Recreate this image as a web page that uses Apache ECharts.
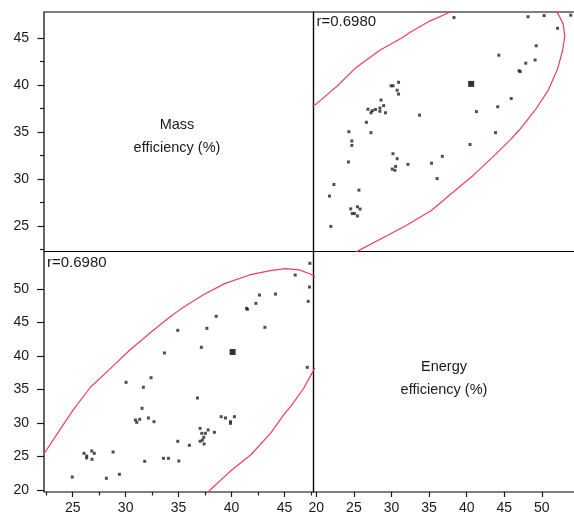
<!DOCTYPE html>
<html><head><meta charset="utf-8">
<script src="https://cdn.jsdelivr.net/npm/echarts@6/dist/echarts.min.js"></script>
<style>html,body{margin:0;padding:0;background:#fff}#c{width:574px;height:516px}</style>
</head><body><div id="c"></div>
<script>
// ---- data (mass efficiency %, energy efficiency %) ----
const massEff = [32.40, 30.04, 31.67, 31.55, 30.92, 31.05, 31.33, 32.15, 32.68, 34.92, 35.02, 33.57, 34.04, 31.80,
  28.81, 26.07, 26.32, 26.32, 26.80, 27.04, 26.82, 24.96, 28.18, 29.41,
  36.78, 36.02, 37.03, 37.19, 37.53, 37.79, 38.38, 37.38, 37.25, 37.03, 37.41, 39.02, 39.43, 39.90, 39.90, 40.27,
  34.92, 33.66,
  47.40, 46.01, 47.36, 47.24, 42.64, 44.15, 42.30, 41.41, 41.50, 38.55, 37.67, 43.15, 37.15, 47.15];
const energyEff = [36.76, 36.07, 35.33, 32.19, 30.45, 30.10, 30.55, 30.75, 30.20, 27.27, 24.33, 24.73, 24.73, 24.28,
  25.67, 25.47, 25.07, 24.78, 25.82, 25.47, 24.58, 21.94, 21.75, 22.34,
  33.73, 26.67, 29.20, 28.46, 28.46, 28.96, 28.61, 27.87, 27.46, 27.27, 26.87, 30.94, 30.75, 30.20, 29.95, 30.94,
  43.83, 40.45,
  53.84, 52.09, 50.30, 48.16, 49.10, 49.25, 47.86, 47.12, 46.97, 45.93, 44.13, 44.28, 41.30, 38.31];
const highlightMass = [40.1];
const highlightEnergy = [40.6];

// confidence ellipse, read as two visible arcs
const ellipseUpperMass   = [22.25, 23.8, 25.05, 26.65, 28.4, 30.4, 32.5, 34.2, 35.2, 37.3, 39.35, 41.7, 43.65, 45.1, 46.4, 47.5, 47.9];
const ellipseUpperEnergy = [25.3, 29.0, 31.95, 35.3, 37.9, 40.9, 43.7, 45.85, 47.0, 49.1, 50.8, 52.1, 52.75, 53.05, 52.85, 52.2, 51.8];
const ellipseLowerMass   = [37.75, 37.92, 39.85, 41.85, 43.7, 44.95, 45.65, 46.8, 47.55, 47.9];
const ellipseLowerEnergy = [19.5, 19.93, 22.75, 25.3, 28.5, 31.3, 32.6, 35.15, 37.3, 38.3];

// ticks and labels
const massTicks = [25, 30, 35, 40, 45];
const massMinorTicksX = [22.5, 27.5, 32.5, 37.5, 42.5, 47.5];
const massMinorTicksY = [22.5, 27.5, 32.5, 37.5, 42.5];
const energyTicks = [20, 25, 30, 35, 40, 45, 50];
const rText = 'r=0.6980';
const massLabel = ['Mass', 'efficiency (%)'];
const energyLabel = ['Energy', 'efficiency (%)'];

// ---- chart ----
const FONT = '"Liberation Sans", Arial, Helvetica, sans-serif';
const RED = '#ef3e5c';
const INK = '#1a1a1a';
const MASS = [22.29, 47.74];
const ENERGY_X = [19.63, 55.67];
const ENERGY_Y = [19.70, 55.60];

const pairsME = massEff.map((m, i) => [m, energyEff[i]]);
const pairsEM = massEff.map((m, i) => [energyEff[i], m]);
const upME = ellipseUpperMass.map((m, i) => [m, ellipseUpperEnergy[i]]);
const upEM = ellipseUpperMass.map((m, i) => [ellipseUpperEnergy[i], m]);
const loME = ellipseLowerMass.map((m, i) => [m, ellipseLowerEnergy[i]]);
const loEM = ellipseLowerMass.map((m, i) => [ellipseLowerEnergy[i], m]);

const gridStyle = {show: true, borderColor: '#000', borderWidth: 1.2, backgroundColor: 'transparent',
  outerBoundsMode: 'none', containLabel: false};
const grids = [
  Object.assign({left: 44, top: 12, width: 269.5, height: 239.5}, gridStyle),
  Object.assign({left: 313.5, top: 12, width: 271, height: 239.5}, gridStyle),
  Object.assign({left: 44, top: 251.5, width: 269.5, height: 240.5}, gridStyle),
  Object.assign({left: 313.5, top: 251.5, width: 271, height: 240.5}, gridStyle)
];

function hidden(type, gi, range) {
  return {type: 'value', gridIndex: gi, min: range[0], max: range[1], show: false, splitLine: {show: false}};
}
function shown(gi, range, pos, ticks, labels, tickLen, margin, fs) {
  return {
    type: 'value', gridIndex: gi, min: range[0], max: range[1], position: pos,
    axisLine: {show: false},
    splitLine: {show: false},
    axisTick: {show: true, length: tickLen, customValues: ticks, lineStyle: {color: INK, width: 1.2}},
    axisLabel: labels ? {show: true, customValues: labels, color: INK, fontSize: fs, fontFamily: FONT, margin: margin} : {show: false}
  };
}

const xAxis = [
  hidden('x', 0, MASS),
  hidden('x', 1, ENERGY_X),
  shown(2, MASS, 'bottom', massTicks, massTicks, 5, 9, 14),
  shown(3, ENERGY_X, 'bottom', energyTicks, energyTicks, 5, 9, 14),
  shown(2, MASS, 'bottom', massMinorTicksX, null, 3.5, 0, 14)
];
const yAxis = [
  shown(0, MASS, 'left', massTicks, massTicks, 6.5, 15, 14),
  hidden('y', 1, MASS),
  shown(2, ENERGY_Y, 'left', energyTicks, energyTicks, 7, 15, 14),
  hidden('y', 3, ENERGY_Y),
  shown(0, MASS, 'left', massMinorTicksY, null, 4, 0, 14)
];

function scatter(xi, yi, data, size, color) {
  return {type: 'scatter', xAxisIndex: xi, yAxisIndex: yi, data: data, symbol: 'rect', symbolSize: size,
    itemStyle: {color: color}, silent: true, animation: false};
}
function arc(xi, yi, data) {
  return {type: 'line', xAxisIndex: xi, yAxisIndex: yi, data: data, showSymbol: false, symbol: 'none', clip: true,
    lineStyle: {color: RED, width: 1.2}, smooth: false, silent: true, animation: false};
}

const series = [
  arc(1, 1, upEM), arc(1, 1, loEM),
  arc(2, 2, upME), arc(2, 2, loME),
  scatter(1, 1, pairsEM, 3, '#222'),
  scatter(2, 2, pairsME, 3, '#222'),
  scatter(1, 1, [[highlightEnergy[0], highlightMass[0]]], 6, '#000'),
  scatter(2, 2, [[highlightMass[0], highlightEnergy[0]]], 6, '#000')
];

function txt(s, x, y, align, fs) {
  return {type: 'text', silent: true, style: {text: s, x: x, y: y, align: align, verticalAlign: 'middle',
    font: fs + 'px ' + FONT, fill: INK}};
}
const graphic = [
  txt(rText, 316.5, 21.5, 'left', 15),
  txt(rText, 47, 262.5, 'left', 15),
  txt(massLabel[0], 177, 125, 'center', 14.5),
  txt(massLabel[1], 177, 148, 'center', 14.5),
  txt(energyLabel[0], 444, 366.5, 'center', 14.5),
  txt(energyLabel[1], 444, 390, 'center', 14.5)
];

const chart = echarts.init(document.getElementById('c'), null, {renderer: 'canvas'});
chart.setOption({animation: false, backgroundColor: '#fff', grid: grids, xAxis: xAxis, yAxis: yAxis, series: series, graphic: graphic});
</script></body></html>
